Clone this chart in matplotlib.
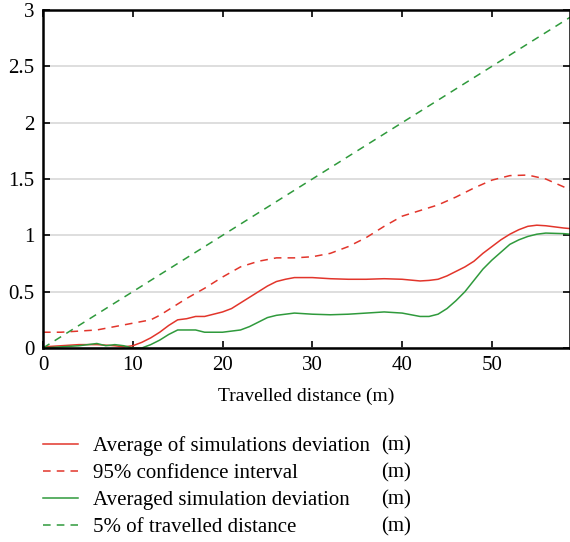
import matplotlib
matplotlib.use("Agg")
import matplotlib.pyplot as plt
import numpy as np

plt.rcParams['font.family'] = ['Liberation Serif', 'DejaVu Serif']

x_avg = [0, 2, 4, 6, 8, 9, 10, 11, 12, 13, 14, 15, 16, 17, 18, 19, 20, 21, 22, 23, 24, 25, 26, 27, 28,
         30, 32, 34, 36, 38, 40, 42, 43, 44, 45, 46, 47, 48, 49, 50, 51, 52, 53, 54, 55, 56, 57, 58, 58.7]
y_avg = [0.01, 0.02, 0.03, 0.03, 0.02, 0.01, 0.02, 0.05, 0.09, 0.14, 0.20, 0.25, 0.26, 0.28, 0.28, 0.30,
         0.32, 0.35, 0.40, 0.45, 0.50, 0.55, 0.59, 0.61, 0.625, 0.625, 0.615, 0.61, 0.61, 0.615, 0.61,
         0.595, 0.60, 0.61, 0.64, 0.68, 0.72, 0.77, 0.84, 0.90, 0.96, 1.01, 1.05, 1.08, 1.09, 1.085,
         1.075, 1.065, 1.06]

x_ci = [0, 2, 4, 6, 8, 10, 12, 13, 14, 16, 18, 20, 22, 24, 26, 28, 30, 32, 34, 36, 38, 40, 42, 44, 46,
        48, 50, 52, 54, 56, 58, 58.7]
y_ci = [0.14, 0.14, 0.15, 0.16, 0.19, 0.22, 0.25, 0.29, 0.34, 0.44, 0.53, 0.63, 0.72, 0.77, 0.80, 0.80,
        0.81, 0.84, 0.90, 0.98, 1.08, 1.17, 1.22, 1.27, 1.34, 1.42, 1.49, 1.53, 1.535, 1.50, 1.43, 1.40]

x_sim = [0, 2, 4, 5, 6, 7, 8, 9, 10, 11, 12, 13, 14, 15, 16, 17, 18, 20, 22, 23, 24, 25, 26, 28, 30,
         32, 34, 36, 38, 40, 42, 43, 44, 45, 46, 47, 48, 49, 50, 51, 52, 53, 54, 55, 56, 58, 58.7]
y_sim = [0.0, 0.01, 0.02, 0.03, 0.04, 0.02, 0.03, 0.02, 0.0, 0.0, 0.03, 0.07, 0.12, 0.16, 0.16, 0.16,
         0.14, 0.14, 0.16, 0.19, 0.23, 0.27, 0.29, 0.31, 0.30, 0.295, 0.30, 0.31, 0.32, 0.31, 0.28, 0.28,
         0.30, 0.35, 0.42, 0.50, 0.60, 0.70, 0.78, 0.85, 0.92, 0.96, 0.99, 1.01, 1.02, 1.015, 1.01]

x_dist = [0, 58.7]
y_dist = [0.0, 0.05 * 58.7]

labels = ["Average of simulations deviation", "95% confidence interval",
          "Averaged simulation deviation", "5% of travelled distance"]
unit = "(m)"
x_ticks = [0, 10, 20, 30, 40, 50]
y_ticks = [0, 0.5, 1, 1.5, 2, 2.5, 3]
y_ticklabels = ["0", "0.5", "1", "1.5", "2", "2.5", "3"]

red = '#e2352b'
green = '#2f9a3c'

fig = plt.figure(figsize=(5.7, 5.42), dpi=100)
ax = fig.add_axes([43/570, 1-348/542, 1-43/570, (348-10)/542])

l1, = ax.plot(x_avg, y_avg, color=red, lw=1.1)
l2, = ax.plot(x_ci, y_ci, color=red, lw=1.1, ls=(0, (5, 4)))
l3, = ax.plot(x_sim, y_sim, color=green, lw=1.1)
l4, = ax.plot(x_dist, y_dist, color=green, lw=1.1, ls=(0, (5, 4)))

ax.set_xlim(0, 58.7)
ax.set_ylim(0, 3)
ax.set_xticks(x_ticks)
ax.set_yticks(y_ticks)
ax.set_yticklabels(y_ticklabels)
ax.yaxis.grid(True, color='#d8d8d8', lw=1.2)
ax.set_axisbelow(True)
ax.tick_params(direction='in', top=True, right=True, labelsize=15, length=5, width=1.2, pad=6)
for s in ax.spines.values():
    s.set_linewidth(1.8)
ax.set_xlabel("Travelled distance (m)", fontsize=14, labelpad=9)

leg = fig.legend([l1, l2, l3, l4], labels, loc='upper left', bbox_to_anchor=(43/570, 1-436/542),
                 frameon=False, fontsize=15, handlelength=1.7, handletextpad=0.72, labelspacing=0.36,
                 borderaxespad=0, borderpad=0)
leg2 = fig.legend([plt.Line2D([], [], lw=0)] * 4, [unit] * 4, loc='upper left',
                  bbox_to_anchor=(381/570, 1-436/542), frameon=False, fontsize=15,
                  handlelength=0, handletextpad=0, labelspacing=0.36, borderaxespad=0, borderpad=0)

fig.savefig("out.png", dpi=100)
